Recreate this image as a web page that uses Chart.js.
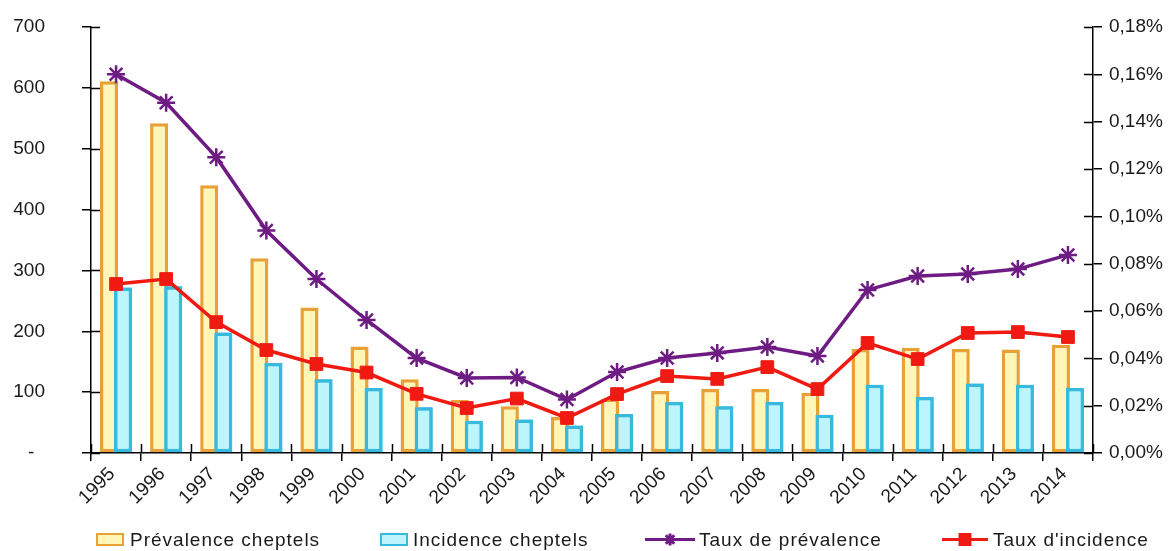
<!DOCTYPE html>
<html lang="fr">
<head>
<meta charset="utf-8">
<title>Prévalence et incidence cheptels 1995-2014</title>
<script src="https://cdn.jsdelivr.net/npm/chart.js@4.4.1/dist/chart.umd.min.js"></script>
<style>
  html, body { margin: 0; padding: 0; background: #fff; }
  #wrap { width: 1175px; height: 551px; }
</style>
</head>
<body>
<div id="wrap"><canvas id="chart" width="1175" height="551"></canvas></div>
<script>
// ============ Data ============
const years = ['1995', '1996', '1997', '1998', '1999', '2000', '2001', '2002', '2003', '2004',
               '2005', '2006', '2007', '2008', '2009', '2010', '2011', '2012', '2013', '2014'];
const prevalenceCheptels = [611, 542, 440, 320, 239, 175, 121, 87, 77, 59,
                            89, 102, 105, 105, 99, 171, 173, 171, 170, 178];
const incidenceCheptels = [272, 274, 198, 148, 121, 107, 75, 53, 55, 45,
                           64, 84, 77, 84, 63, 112, 92, 114, 112, 107];
// rates, in percent
const tauxPrevalence = [0.160, 0.148, 0.125, 0.094, 0.0735, 0.0562, 0.0401, 0.0317, 0.0319, 0.0226,
                        0.0342, 0.0401, 0.0423, 0.0448, 0.0410, 0.0689, 0.0748, 0.0756, 0.0777, 0.0837];
const tauxIncidence = [0.0714, 0.0735, 0.0553, 0.0435, 0.0376, 0.0340, 0.0250, 0.0190, 0.0230, 0.0148,
                       0.0249, 0.0325, 0.0313, 0.0363, 0.0270, 0.0465, 0.0397, 0.0507, 0.0511, 0.0490];
const countMax = 700, countStep = 100;
const rateMax = 0.18, rateStep = 0.02;

// ============ Styles ============
const ORANGE = '#E8A136', YELLOW = '#FFF6B8';
const CYAN = '#38BADF', CYAN_FILL = '#BDF5FF';
const PURPLE = '#6E1C84', RED = '#F01A12';
const FONT = "'Liberation Sans', Arial, sans-serif";
const TICK = 9;

Chart.defaults.font.family = FONT;
Chart.defaults.color = '#1a1a1a';

// cyan bars overlap the yellow ones, so paint them again once the yellow set is done
const incidenceOnTop = {
    id: 'incidenceOnTop',
    afterDatasetDraw(chart, args) {
        if (args.index !== 0) return;
        chart.getDatasetMeta(1).data.forEach(bar => bar.draw(chart.ctx));
    }
};

// tick marks that cross the axes (inner half)
const crossTicks = {
    id: 'crossTicks',
    afterDraw(chart) {
        const { ctx, chartArea: a, scales } = chart;
        ctx.save();
        ctx.strokeStyle = '#000';
        ctx.lineWidth = 1.5;
        ctx.beginPath();
        scales.y.ticks.forEach((t, i) => {
            const py = Math.round(scales.y.getPixelForTick(i)) + 0.5;
            ctx.moveTo(a.left, py); ctx.lineTo(a.left + TICK, py);
        });
        scales.y1.ticks.forEach((t, i) => {
            const py = Math.round(scales.y1.getPixelForTick(i)) + 0.5;
            ctx.moveTo(a.right - TICK, py); ctx.lineTo(a.right, py);
        });
        const step = (a.right - a.left) / years.length;
        for (let i = 0; i <= years.length; i++) {
            const px = Math.round(a.left + i * step) + 0.5;
            ctx.moveTo(px, a.bottom - TICK); ctx.lineTo(px, a.bottom);
        }
        ctx.stroke();
        ctx.restore();
    }
};

// legend row under the axis labels
const legendItems = [
    { label: 'Prévalence cheptels', kind: 'box', fill: YELLOW, stroke: ORANGE, x: 96, w: 28, tx: 130 },
    { label: 'Incidence cheptels', kind: 'box', fill: CYAN_FILL, stroke: CYAN, x: 380, w: 28, tx: 413 },
    { label: 'Taux de prévalence', kind: 'line', color: PURPLE, point: 'star', r: 6, x: 645, w: 50, tx: 699 },
    { label: "Taux d'incidence", kind: 'line', color: RED, point: 'rect', r: 7, x: 942, w: 46, tx: 993 }
];
const bottomLegend = {
    id: 'bottomLegend',
    afterDraw(chart) {
        const ctx = chart.ctx;
        const cy = 539.5;
        ctx.save();
        legendItems.forEach(it => {
            if (it.kind === 'box') {
                ctx.fillStyle = it.fill;
                ctx.fillRect(it.x, cy - 6.5, it.w, 13);
                ctx.strokeStyle = it.stroke;
                ctx.lineWidth = 2;
                ctx.strokeRect(it.x + 1, cy - 5.5, it.w - 2, 11);
            } else {
                ctx.strokeStyle = it.color;
                ctx.fillStyle = it.color;
                ctx.lineWidth = 3;
                ctx.beginPath();
                ctx.moveTo(it.x, cy); ctx.lineTo(it.x + it.w, cy);
                ctx.stroke();
                Chart.helpers.drawPoint(ctx, { pointStyle: it.point, radius: it.r, rotation: 0, borderWidth: 2 },
                    it.x + it.w / 2, cy);
            }
            ctx.fillStyle = '#1a1a1a';
            ctx.font = '19px ' + FONT;
            ctx.letterSpacing = '1px';
            ctx.textBaseline = 'middle';
            ctx.textAlign = 'left';
            ctx.fillText(it.label, it.tx, cy + 1);
        });
        ctx.restore();
    }
};

const axisLine = { display: true, color: '#000', width: 1.5 };

// the wide label gap must not push the plot area down
function fitSide(width) {
    return s => {
        s.width = width;
        s.paddingTop = 10;
        s.paddingBottom = 10;
    };
}

new Chart(document.getElementById('chart'), {
    data: {
        labels: years,
        datasets: [
            {
                type: 'bar', label: 'Prévalence cheptels', data: prevalenceCheptels, yAxisID: 'y',
                backgroundColor: YELLOW, borderColor: ORANGE, borderWidth: 3.5, borderSkipped: false,
                categoryPercentage: 0.56, barPercentage: 1.29, order: 2
            },
            {
                type: 'bar', label: 'Incidence cheptels', data: incidenceCheptels, yAxisID: 'y',
                backgroundColor: CYAN_FILL, borderColor: CYAN, borderWidth: 3.5, borderSkipped: false,
                categoryPercentage: 0.56, barPercentage: 1.29, order: 3
            },
            {
                type: 'line', label: 'Taux de prévalence', data: tauxPrevalence, yAxisID: 'y1',
                borderColor: PURPLE, borderWidth: 3.5, tension: 0,
                pointStyle: 'star', pointRadius: 9, pointBorderWidth: 2.5,
                pointBorderColor: PURPLE, pointBackgroundColor: PURPLE, order: 1
            },
            {
                type: 'line', label: "Taux d'incidence", data: tauxIncidence, yAxisID: 'y1',
                borderColor: RED, borderWidth: 3.5, tension: 0,
                pointStyle: 'rect', pointRadius: 9, pointBorderWidth: 1,
                pointBorderColor: RED, pointBackgroundColor: RED, order: 0
            }
        ]
    },
    options: {
        responsive: false,
        animation: false,
        layout: { padding: { top: 27, bottom: 40, left: 0, right: 0 } },
        plugins: { legend: { display: false }, tooltip: { enabled: false } },
        scales: {
            x: {
                type: 'category',
                offset: true,
                border: axisLine,
                grid: { drawOnChartArea: false, offset: true, color: '#000', lineWidth: 1.5, tickLength: 8 },
                ticks: {
                    minRotation: 45, maxRotation: 45, padding: 2, labelOffset: -4,
                    font: { size: 19 }, color: '#1a1a1a'
                },
                afterFit(s) { s.height = 58; }
            },
            y: {
                position: 'left',
                min: 0, max: countMax,
                border: axisLine,
                grid: { drawOnChartArea: false, color: '#000', lineWidth: 1.5, tickLength: TICK },
                ticks: {
                    stepSize: countStep, padding: 37, font: { size: 19 }, color: '#1a1a1a',
                    callback: v => v === 0 ? '-  ' : String(v)
                },
                afterFit: fitSide(91)
            },
            y1: {
                position: 'right',
                min: 0, max: rateMax,
                border: axisLine,
                grid: { drawOnChartArea: false, color: '#000', lineWidth: 1.5, tickLength: TICK },
                ticks: {
                    stepSize: rateStep, padding: 7, font: { size: 19 }, color: '#1a1a1a',
                    callback: v => v.toFixed(2).replace('.', ',') + '%'
                },
                afterFit: fitSide(82)
            }
        }
    },
    plugins: [incidenceOnTop, crossTicks, bottomLegend]
});
</script>
</body>
</html>
